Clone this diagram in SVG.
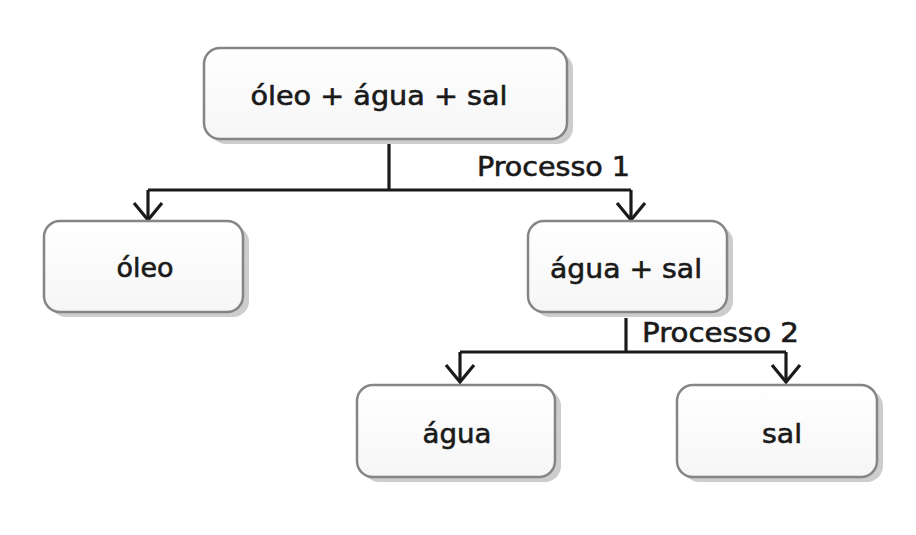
<svg xmlns="http://www.w3.org/2000/svg" width="916" height="535" viewBox="0 0 916 535">
<style>
.box{fill:url(#g);stroke:#858585;stroke-width:2.5}
.sh{fill:#cdcdcd}
.t{font-family:"DejaVu Sans","Liberation Sans",sans-serif;font-size:26px;fill:#1a1a1a;stroke:#1a1a1a;stroke-width:0.6;text-anchor:middle}
.lbl{font-family:"DejaVu Sans","Liberation Sans",sans-serif;font-size:27px;fill:#1a1a1a;stroke:#1a1a1a;stroke-width:0.6}
.c{fill:none;stroke:#1a1a1a;stroke-width:3.2}
</style>
<defs>
<linearGradient id="g" x1="0" y1="0" x2="0" y2="1">
<stop offset="0" stop-color="#ffffff"/>
<stop offset="1" stop-color="#f6f6f6"/>
</linearGradient>
</defs>
<rect width="916" height="535" fill="#ffffff"/>
<g id="connectors">
<path class="c" d="M389,140 V190"/>
<path class="c" d="M148,190 H631"/>
<path class="c" d="M148,190 V220"/>
<path class="c" d="M631,190 V220"/>
<path class="c" d="M134,203 L148,220 L162,203 M617,203 L631,220 L645,203"/>
<path class="c" d="M626,318 V352"/>
<path class="c" d="M460,352 H786"/>
<path class="c" d="M460,352 V382"/>
<path class="c" d="M786,352 V382"/>
<path class="c" d="M446,365 L460,382 L474,365 M772,365 L786,382 L800,365"/>
<text class="lbl" x="477" y="176" textLength="153" lengthAdjust="spacingAndGlyphs">Processo 1</text>
<text class="lbl" x="642" y="342" textLength="157" lengthAdjust="spacingAndGlyphs">Processo 2</text>
</g>
<g id="n-mistura">
<rect class="sh" x="210" y="53" width="363" height="91" rx="16"/>
<rect class="box" x="204" y="48" width="363" height="91" rx="16"/>
<text class="t" x="379" y="105" textLength="257" lengthAdjust="spacingAndGlyphs">óleo + água + sal</text>
</g>
<g id="n-oleo">
<rect class="sh" x="50" y="226" width="199" height="91" rx="16"/>
<rect class="box" x="44" y="221" width="199" height="91" rx="16"/>
<text class="t" x="145" y="277" textLength="57" lengthAdjust="spacingAndGlyphs">óleo</text>
</g>
<g id="n-aguasal">
<rect class="sh" x="534" y="226" width="199" height="91" rx="16"/>
<rect class="box" x="528" y="221" width="199" height="91" rx="16"/>
<text class="t" x="626" y="278" textLength="152" lengthAdjust="spacingAndGlyphs">água + sal</text>
</g>
<g id="n-agua">
<rect class="sh" x="363" y="390" width="198" height="92" rx="16"/>
<rect class="box" x="357" y="385" width="198" height="92" rx="16"/>
<text class="t" x="457" y="443" textLength="69" lengthAdjust="spacingAndGlyphs">água</text>
</g>
<g id="n-sal">
<rect class="sh" x="683" y="390" width="200" height="92" rx="16"/>
<rect class="box" x="677" y="385" width="200" height="92" rx="16"/>
<text class="t" x="782" y="443" textLength="40" lengthAdjust="spacingAndGlyphs">sal</text>
</g>
</svg>
